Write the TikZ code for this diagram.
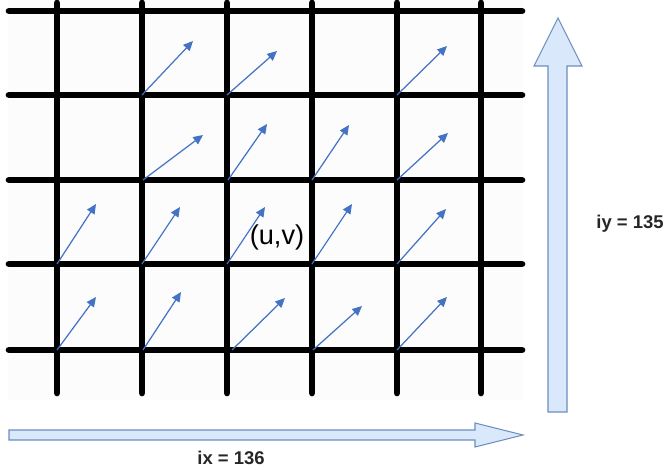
\documentclass[tikz,border=0pt]{standalone}
\usepackage{fontspec}
\setmainfont{Liberation Sans}
\usetikzlibrary{arrows.meta}
\definecolor{vecblue}{HTML}{4472C4}
\definecolor{boxfill}{HTML}{DAE8FC}
\definecolor{boxline}{HTML}{6C8EBF}

\begin{document}
\begin{tikzpicture}[x=0.02cm, y=-0.02cm,
    gridline/.style={line width=3.8pt, line cap=round},
    vec/.style={draw=vecblue, line width=0.7pt, -{Triangle[length=5.5pt, width=5pt]}},
    bigarrow/.style={draw=boxline, fill=boxfill, line width=0.6pt},
    lbl/.style={font=\fontsize{10.5}{12}\selectfont\bfseries, text=black!85}]
    \useasboundingbox (0,0) rectangle (667,470);
    % photo of the grid
    \fill[black!1] (8,0) rectangle (523,400);
    \foreach \gy in {11,95,180,264,350}
        \draw[gridline] (9,\gy) -- (522,\gy);
    \foreach \gx in {57,142,227,312,397,481}
        \draw[gridline] (\gx,3) -- (\gx,393);

    % motion vectors
    \foreach \sx/\sy/\ex/\ey [count=\i] in {142/95/193/41, 227/95/277/51, 397/95/447/46,
        143/180/203/135, 228/180/267/124, 312/180/349/125, 397/180/448/133,
        57/264/96/204, 142/264/180/207, 227/264/265/207, 312/264/352/204, 397/264/446/209,
        57/350/96/297, 143/350/181/292, 232/350/285/298, 313/350/362/306, 397/350/447/297}
    {
        \coordinate (s\i) at (\sx,\sy);
        \coordinate (e\i) at (\ex,\ey);
        \draw[vec] (s\i) -- (e\i);
    }
    \node (uv) at (277,237) {\fontsize{15.5}{18}\selectfont (u,v)};

    % image size arrows
    \draw[bigarrow] (548,412) -- (548,66) -- (534,66) -- (558,18) -- (582,66)
        -- (567,66) -- (567,412) -- cycle;
    \draw[bigarrow] (9,430) -- (475,430) -- (475,423) -- (523,435) -- (475,447)
        -- (475,440) -- (9,440) -- cycle;
    \node[lbl] (iy) at (630,224) {iy = 135};
    \node[lbl] (ix) at (231,458) {ix = 136};
\end{tikzpicture}
\end{document}
